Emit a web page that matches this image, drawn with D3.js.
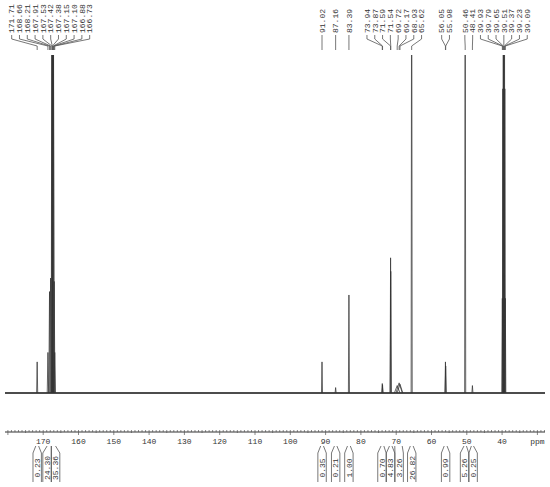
<!DOCTYPE html>
<html>
<head>
<meta charset="utf-8">
<script src="https://cdn.jsdelivr.net/npm/d3@7"></script>
<style>
  body { margin: 0; background: #fff; }
</style>
</head>
<body>
<div id="spectrum"></div>
<script>
// 13C NMR peak list (ppm), heights in % of plot height, line half-widths (ppm)
var peakPpm = [171.71, 168.66, 168.21, 167.91, 167.53, 167.42, 167.38, 167.15, 167.10, 166.88, 166.73,
    91.02, 87.16, 83.39, 73.94, 73.87, 71.59, 71.54, 69.72, 69.17, 68.93, 65.62,
    56.05, 55.98, 50.46, 48.41, 39.93, 39.79, 39.65, 39.51, 39.37, 39.23, 39.09];
var peakHeight = [9.2, 12, 30, 34, 150, 160, 120, 140, 120, 33, 12,
    9.2, 1.6, 29, 2.8, 2.4, 40, 36, 2.2, 3.0, 2.6, 150,
    9.2, 8, 150, 2.2, 28, 90, 180, 210, 180, 90, 28];
var peakWidth = [0.15, 0.2, 0.2, 0.2, 0.2, 0.2, 0.2, 0.2, 0.2, 0.2, 0.2,
    0.15, 0.15, 0.15, 0.15, 0.15, 0.15, 0.15, 0.8, 0.9, 0.8, 0.15,
    0.15, 0.15, 0.15, 0.15, 0.15, 0.15, 0.15, 0.15, 0.15, 0.15, 0.15];

// integral regions
var intFrom = [172.1, 168.9, 167.7, 91.4, 87.5, 83.8, 74.3, 71.9, 70.4, 66.0, 56.4, 50.8, 48.7];
var intTo = [171.3, 167.7, 166.5, 90.6, 86.8, 83.0, 73.5, 71.2, 68.3, 65.2, 55.6, 50.1, 48.1];
var intValue = ["0.23", "24.30", "35.36", "0.35", "0.21", "1.00", "0.70", "4.83", "3.26", "26.82", "0.99", "5.26", "0.25"];

// axis labels
var tickValues = [170, 160, 150, 140, 130, 120, 110, 100, 90, 80, 70, 60, 50, 40];
var unitLabel = "ppm";

var svgWidth = 550;
var svgHeight = 487;
var font = "'Liberation Mono', 'DejaVu Sans Mono', monospace";

var plot = { left: 5, right: 545, top: 55, base: 393, axis: 432 };

var svg = d3.select("#spectrum")
    .append("svg")
    .attr("width", svgWidth)
    .attr("height", svgHeight);

// scales
var ppmAtLeft = 91.02 + (322 - plot.left) / 3.53;
var ppmAtRight = 91.02 - (plot.right - 322) / 3.53;
var x = d3.scaleLinear()
    .domain([ppmAtLeft, ppmAtRight])
    .range([plot.left, plot.right]);
var y = d3.scaleLinear()
    .domain([0, 100])
    .range([plot.base, plot.top]);

svg.append("clipPath")
    .attr("id", "clip")
    .append("rect")
    .attr("x", plot.left)
    .attr("y", plot.top)
    .attr("width", plot.right - plot.left)
    .attr("height", plot.axis - plot.top);

var specGroup = svg.append("g").attr("clip-path", "url(#clip)");

// baseline
specGroup.append("line")
    .attr("x1", plot.left).attr("x2", plot.right)
    .attr("y1", y(0)).attr("y2", y(0))
    .attr("stroke", "#111")
    .attr("stroke-width", 1.4);

// peaks
var peaks = peakPpm.map(function (p, i) {
    return { ppm: p, h: peakHeight[i], w: peakWidth[i] };
});
var peakLine = d3.line().x(d => x(d[0])).y(d => y(d[1]));
specGroup.selectAll("path.peak")
    .data(peaks)
    .enter()
    .append("path")
    .attr("class", "peak")
    .attr("d", d => peakLine([[d.ppm + d.w, 0], [d.ppm, d.h], [d.ppm - d.w, 0]]))
    .attr("fill", "none")
    .attr("stroke", "#333")
    .attr("stroke-width", 0.75)
    .attr("stroke-linejoin", "round");

// spread labels so they don't overlap
function spread(xs, gap) {
    var groups = xs.map(v => ({ sum: v, n: 1, start: v }));
    var merged = true;
    while (merged) {
        merged = false;
        for (var i = 0; i < groups.length - 1; i++) {
            var a = groups[i], b = groups[i + 1];
            if (b.start - (a.start + (a.n - 1) * gap) < gap) {
                var n = a.n + b.n, sum = a.sum + b.sum;
                groups.splice(i, 2, { sum: sum, n: n, start: sum / n - (n - 1) * gap / 2 });
                merged = true;
                break;
            }
        }
    }
    var out = [];
    groups.forEach(g => { for (var k = 0; k < g.n; k++) out.push(g.start + k * gap); });
    return out;
}

// peak labels on top
var labelX = spread(peakPpm.map(p => x(p)), 7.8);
var labelGroup = svg.append("g");
labelGroup.selectAll("path")
    .data(peakPpm)
    .enter()
    .append("path")
    .attr("d", (d, i) => `M${labelX[i]},35V39L${x(d)},46V50`)
    .attr("fill", "none")
    .attr("stroke", "#555")
    .attr("stroke-width", 0.8);
labelGroup.selectAll("text")
    .data(peakPpm)
    .enter()
    .append("text")
    .attr("transform", (d, i) => `translate(${labelX[i]},33) rotate(-90)`)
    .attr("dy", "0.35em")
    .attr("text-anchor", "start")
    .attr("font-family", font)
    .attr("font-size", "8px")
    .attr("fill", "#333")
    .text(d => d.toFixed(2));

// ppm axis
var axisGroup = svg.append("g");
axisGroup.append("line")
    .attr("x1", plot.left).attr("x2", plot.right)
    .attr("y1", plot.axis).attr("y2", plot.axis)
    .attr("stroke", "#333");
var minorTicks = d3.range(Math.ceil(ppmAtRight), Math.floor(ppmAtLeft) + 1);
axisGroup.selectAll("line.tick")
    .data(minorTicks)
    .enter()
    .append("line")
    .attr("class", "tick")
    .attr("x1", d => x(d)).attr("x2", d => x(d))
    .attr("y1", plot.axis - 2)
    .attr("y2", d => d % 10 === 0 ? plot.axis + 3 : (d % 5 === 0 ? plot.axis + 1 : plot.axis))
    .attr("stroke", "#555")
    .attr("stroke-width", 0.7);
axisGroup.selectAll("text.tl")
    .data(tickValues)
    .enter()
    .append("text")
    .attr("class", "tl")
    .attr("x", d => x(d))
    .attr("y", plot.axis + 12)
    .attr("text-anchor", "middle")
    .attr("font-family", font)
    .attr("font-size", "8px")
    .attr("fill", "#333")
    .text(d => d);
axisGroup.append("text")
    .attr("x", x(30))
    .attr("y", plot.axis + 12)
    .attr("text-anchor", "middle")
    .attr("font-family", font)
    .attr("font-size", "8px")
    .attr("fill", "#333")
    .text(unitLabel);

// integrals below the axis
var intCenter = intFrom.map((f, i) => x((f + intTo[i]) / 2));
var boxX = spread(intCenter, 8.6);
var intGroup = svg.append("g");
var half = 4.2;
intGroup.selectAll("path")
    .data(intValue)
    .enter()
    .append("path")
    .attr("d", (d, i) => `M${x(intFrom[i])},446L${boxX[i] - half},453V482` +
        `M${x(intTo[i])},446L${boxX[i] + half},453V482`)
    .attr("fill", "none")
    .attr("stroke", "#555")
    .attr("stroke-width", 0.8);
intGroup.selectAll("text")
    .data(intValue)
    .enter()
    .append("text")
    .attr("transform", (d, i) => `translate(${boxX[i]},468) rotate(-90)`)
    .attr("dy", "0.35em")
    .attr("text-anchor", "middle")
    .attr("font-family", font)
    .attr("font-size", "8px")
    .attr("fill", "#333")
    .text(d => d);
</script>
</body>
</html>
